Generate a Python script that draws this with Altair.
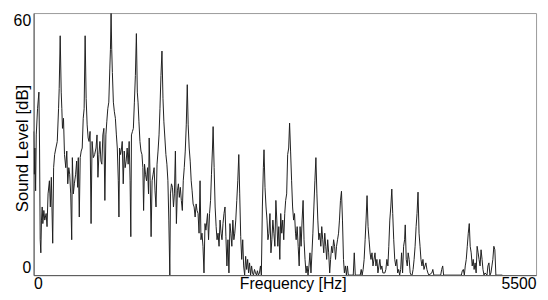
import altair as alt
import pandas as pd

# Spectrum: frequency [Hz] and sound level [dB]
freq_hz = [
    0, 7, 14, 22, 29, 43, 58, 65, 72, 79, 86, 94, 101, 112, 122, 137, 147, 158, 173, 183,
    194, 209, 219, 230, 244, 259, 273, 280, 291, 302, 309, 316, 327, 338, 352, 363, 374, 385, 395, 406,
    417, 424, 435, 446, 460, 471, 482, 489, 500, 510, 521, 532, 543, 553, 564, 575, 586, 597, 607, 618,
    629, 640, 654, 668, 683, 694, 704, 715, 726, 737, 747, 758, 769, 780, 791, 801, 812, 823, 834, 841,
    848, 855, 862, 873, 884, 895, 906, 916, 927, 934, 941, 952, 963,
    970, 981, 992, 1002, 1013, 1024, 1035, 1046, 1056, 1064, 1071, 1082, 1092, 1103, 1114, 1125, 1135, 1143, 1153, 1164,
    1175, 1186, 1196, 1204, 1214, 1225, 1236, 1247, 1258, 1265, 1276, 1286, 1297, 1308, 1319, 1329, 1340, 1351, 1362, 1373,
    1383, 1394, 1405, 1416, 1426, 1437, 1448, 1459, 1470, 1480, 1491, 1498, 1509, 1520, 1531, 1541, 1552, 1563, 1574, 1585,
    1595, 1606, 1617, 1628, 1638, 1649, 1660, 1671, 1682, 1692, 1703, 1714, 1725, 1735, 1746, 1757, 1768, 1779, 1789, 1800,
    1811, 1822, 1832, 1843, 1854, 1865, 1876, 1886,
    1904, 1915, 1926, 1937, 1947, 1958, 1965, 1976, 1987, 1998, 2008, 2019, 2030, 2041, 2052, 2062, 2073, 2084, 2095, 2105,
    2116, 2127, 2138, 2149, 2159, 2170, 2181, 2192, 2202, 2213, 2224, 2235, 2246, 2256, 2267, 2278, 2289, 2299, 2310, 2321,
    2332, 2343, 2353, 2364, 2375, 2386, 2396, 2407, 2418, 2429, 2440, 2450, 2461, 2472, 2483, 2493, 2504, 2515, 2522, 2533,
    2544, 2555, 2565, 2576, 2587, 2598, 2608, 2619, 2630, 2641, 2652, 2662, 2673, 2684, 2695, 2705, 2716, 2727, 2738, 2749,
    2759, 2770, 2781, 2792, 2802, 2813, 2824, 2835, 2846, 2856, 2867,
    2874, 2885, 2896, 2907, 2917, 2928, 2939, 2950, 2960, 2971, 2982, 2993, 3004, 3014, 3025, 3036, 3047, 3057, 3068, 3079,
    3090, 3101, 3111, 3122, 3133, 3144, 3154, 3165, 3176, 3187, 3198, 3208, 3219, 3230, 3241, 3251, 3262, 3273, 3284, 3295,
    3305, 3316, 3327, 3338, 3348, 3359, 3370, 3381, 3392, 3402, 3413, 3424, 3435, 3445, 3478, 3499, 3510, 3521, 3575, 3586,
    3596, 3607, 3618, 3629, 3639, 3650, 3661, 3672, 3683, 3693, 3704, 3715, 3726, 3737, 3747, 3758, 3769, 3780, 3790, 3801,
    3812, 3823,
    3845, 3856, 3867, 3878, 3888, 3899, 3910, 3921, 3931, 3942, 3953, 3964, 3975, 3985, 3996, 4007, 4018, 4028, 4039, 4050,
    4061, 4068, 4079, 4090, 4100, 4111, 4122, 4133, 4143, 4154, 4165, 4176, 4187, 4197, 4208, 4219, 4230, 4240, 4251, 4262,
    4273, 4284, 4294, 4305, 4316, 4327, 4359, 4370, 4381, 4456, 4467, 4478, 4488, 4682, 4693, 4704, 4715, 4725, 4736, 4747,
    4758, 4769, 4779, 4790, 4801, 4812, 4822, 4833, 4844, 4855, 4866, 4876, 4887, 4898, 4909, 4919, 4930, 4941, 4963, 4973,
    4984, 4995, 5006, 5017, 5027, 5038, 5049, 5060, 5131,
]

level_db = [
    32.9, 23.1, 29.1, 19.3, 32.1, 38.1, 41.9, 29.1, 8.1, 5.1, 12.6, 15.6, 11.8, 14.8, 12.6, 14.1, 11.1, 18.6, 21.6, 15.6,
    22.4, 7.3, 24.6, 27.6, 29.1, 30.6, 38.1, 42.7, 54.8, 41.9, 38.1, 33.6, 35.9, 27.6, 24.6, 28.4, 20.9, 24.6, 23.1, 18.6,
    8.1, 26.9, 18.6, 20.9, 23.1, 26.1, 20.1, 26.9, 13.3, 26.9, 28.4, 29.1, 35.9, 38.1, 54.8, 40.4, 34.4, 31.4, 30.6, 32.9,
    11.8, 30.6, 26.9, 27.6, 29.1, 32.1, 22.4, 27.6, 30.6, 26.1, 25.4, 32.1, 33.6, 17.1, 32.1, 35.1, 38.1, 39.6, 47.2, 51.7,
    59.9, 51.7, 46.4, 39.6, 37.4, 35.9, 32.1, 29.1, 21.6, 13.3, 29.1, 27.6, 29.1,
    30.6, 20.9, 28.4, 24.6, 26.1, 29.1, 25.4, 30.6, 21.6, 8.8, 32.1, 32.9, 33.6, 39.6, 45.7, 55.3, 41.9, 39.6, 35.1, 30.6,
    28.4, 27.6, 24.6, 14.8, 25.4, 23.1, 21.6, 24.6, 18.6, 31.4, 21.6, 8.8, 21.6, 23.1, 24.6, 19.3, 15.6, 25.4, 28.4, 32.1,
    38.1, 45.7, 51.3, 40.4, 35.1, 31.4, 27.6, 25.4, 21.6, 12.6, 0.0, 18.6, 20.9, 20.1, 15.6, 18.6, 28.4, 11.8, 19.3, 20.9,
    17.8, 20.1, 17.1, 14.8, 21.6, 24.6, 28.4, 34.4, 43.6, 34.4, 29.1, 26.1, 21.6, 19.3, 16.3, 15.6, 13.3, 16.3, 14.8, 14.1,
    9.6, 21.6, 8.1, 9.6, 6.6, 0.5, 11.8, 10.3,
    14.1, 8.1, 14.1, 17.1, 23.1, 29.1, 34.0, 24.6, 15.6, 11.1, 8.1, 9.6, 6.6, 12.6, 9.6, 8.1, 11.8, 14.1, 15.6, 8.8,
    2.1, 8.1, 0.5, 11.8, 9.6, 6.6, 12.6, 8.1, 9.6, 12.6, 17.1, 21.6, 27.6, 18.6, 8.8, 3.6, 8.1, 2.1, 0.0, 4.3,
    1.3, 3.6, 0.5, 2.8, 0.0, 2.1, 0.5, 0.0, 1.3, 0.5, 0.0, 1.0, 0.0, 0.5, 2.1, 0.0, 15.6, 24.6, 28.7, 20.1,
    15.6, 12.6, 8.1, 9.6, 14.1, 5.1, 8.1, 12.6, 9.6, 6.6, 17.1, 12.6, 6.6, 11.1, 3.6, 14.1, 9.6, 12.6, 8.1, 14.1,
    17.1, 18.6, 27.6, 29.1, 34.8, 28.4, 21.6, 15.6, 12.6, 14.1, 9.6,
    8.1, 11.1, 6.6, 2.1, 11.1, 6.6, 12.6, 17.1, 8.1, 3.6, 0.5, 2.1, 0.0, 2.1, 5.1, 0.5, 5.1, 9.6, 15.6, 21.6,
    26.9, 18.6, 12.6, 8.1, 9.6, 6.6, 11.1, 8.1, 5.1, 9.6, 6.6, 3.6, 8.1, 5.1, 0.5, 3.6, 6.6, 5.1, 8.1, 6.6,
    3.6, 6.6, 8.1, 9.6, 12.6, 17.1, 19.2, 12.6, 3.6, 0.5, 2.1, 0.0, 2.1, 0.0, 0.0, 0.0, 5.1, 0.0, 0.0, 1.3,
    0.0, 1.3, 3.6, 8.1, 12.6, 18.2, 11.1, 8.1, 5.1, 3.6, 5.1, 2.1, 3.6, 5.1, 2.1, 3.6, 0.5, 2.1, 3.6, 1.3,
    2.1, 0.5,
    0.5, 1.3, 3.6, 2.1, 6.6, 12.6, 15.6, 19.7, 14.1, 8.1, 3.6, 2.1, 3.6, 0.5, 1.3, 0.0, 1.3, 5.1, 0.5, 6.6,
    8.1, 11.5, 3.6, 2.1, 5.1, 3.6, 0.5, 0.0, 0.0, 1.3, 3.6, 6.6, 11.1, 14.1, 19.0, 9.6, 6.6, 3.6, 2.1, 3.6,
    1.3, 2.1, 2.8, 1.3, 0.5, 0.0, 0.5, 1.3, 0.0, 0.0, 1.3, 2.1, 0.0, 0.0, 1.0, 1.3, 0.0, 2.1, 3.6, 6.6,
    9.6, 11.8, 6.6, 5.1, 2.1, 3.6, 1.3, 2.8, 0.5, 6.6, 5.1, 3.6, 2.1, 5.8, 3.6, 1.3, 0.0, 0.5, 0.0, 2.1,
    2.8, 0.0, 0.5, 2.1, 3.6, 6.6, 5.8, 0.0, 0.0,
]

x_ticks = [0, 5500]
y_ticks = [0, 60]
x_title = "Frequency [Hz]"
y_title = "Sound Level [dB]"

df = pd.DataFrame({"freq": freq_hz, "level": level_db})

FONT = "Liberation Sans"

chart = (
    alt.Chart(df)
    .mark_line(color="#1e1e1e", strokeWidth=1, clip=True)
    .encode(
        x=alt.X(
            "freq:Q",
            scale=alt.Scale(domain=[0, 5500], nice=False, zero=False),
            axis=alt.Axis(
                values=x_ticks,
                format="d",
                title=x_title,
                titleX=263,
                titleY=14,
                titleAlign="center",
                titleBaseline="alphabetic",
                titleFontSize=16,
                labelPadding=1,
            ),
        ),
        y=alt.Y(
            "level:Q",
            scale=alt.Scale(domain=[0, 60], nice=False, zero=False),
            axis=alt.Axis(
                values=y_ticks,
                format="d",
                title=y_title,
                titleX=-6,
                titleY=137,
                titleAngle=270,
                titleAlign="center",
                titleBaseline="alphabetic",
                titleFontSize=17,
                labelPadding=3,
            ),
        ),
    )
    .properties(
        width=510,
        height=266,
        autosize=alt.AutoSizeParams(type="none"),
        padding={"left": 26, "top": 3, "right": 4, "bottom": 15},
    )
    .configure_view(stroke="#9a9a9a", strokeWidth=1)
    .configure_axis(
        grid=False,
        ticks=False,
        domainColor="#555555",
        domainWidth=1,
        labelFont=FONT,
        titleFont=FONT,
        labelFontSize=16,
        labelColor="#000000",
        titleColor="#000000",
        titleFontWeight="normal",
        labelFlush=True,
    )
)

chart.save("out.html", embed_options={"renderer": "svg", "actions": False})
